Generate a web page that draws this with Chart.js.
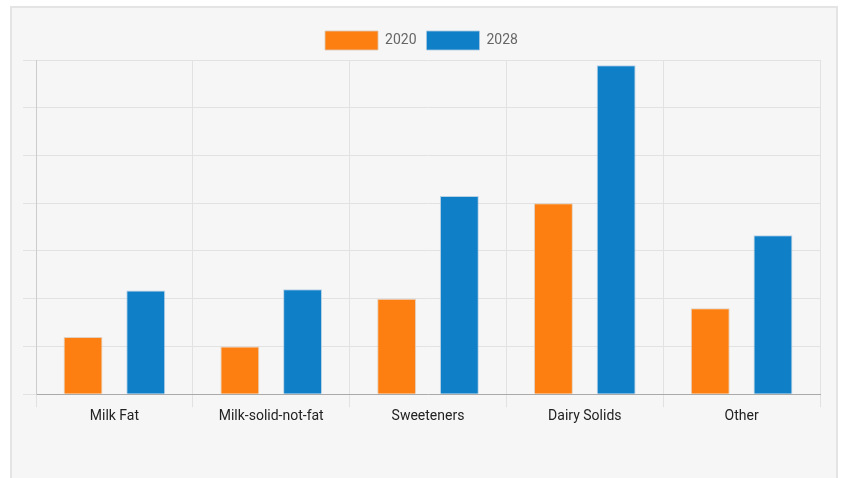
<!DOCTYPE html>
<html>
<head>
<meta charset="utf-8">
<script src="https://cdn.jsdelivr.net/npm/chart.js@4.4.0/dist/chart.umd.min.js"></script>
<style>
    html, body { margin: 0; padding: 0; background: #ffffff; }
    .frame {
        position: absolute; left: 10px; top: 6px; width: 824px; height: 480px;
        background: #f6f6f6; border: 2px solid #e4e4e4;
    }
    .wrap { position: absolute; left: 0; top: 0; width: 842px; height: 478px; }
</style>
</head>
<body>
<div class="frame"></div>
<div class="wrap"><canvas id="chart"></canvas></div>
<script>
const categories = ['Milk Fat', 'Milk-solid-not-fat', 'Sweeteners', 'Dairy Solids', 'Other'];
const values2020 = [1.2, 1.0, 2.0, 4.0, 1.8];
const values2028 = [2.17, 2.2, 4.15, 6.89, 3.33];

const ctx = document.getElementById('chart').getContext('2d');

new Chart(ctx, {
    type: 'bar',
    data: {
        labels: categories,
        datasets: [{
            label: '2020',
            data: values2020,
            backgroundColor: '#fd7f11',
            borderColor: 'rgba(220,200,180,0.8)',
            borderWidth: 1
        }, {
            label: '2028',
            data: values2028,
            backgroundColor: '#0f7fc8',
            borderColor: 'rgba(170,200,225,0.8)',
            borderWidth: 1
        }]
    },
    options: {
        responsive: true,
        maintainAspectRatio: false,
        animation: false,
        datasets: {
            bar: { categoryPercentage: 0.8, barPercentage: 0.62 }
        },
        layout: {
            padding: { left: 23, right: 22, top: 21, bottom: 52 }
        },
        plugins: {
            legend: {
                position: 'top',
                labels: {
                    boxWidth: 53,
                    boxHeight: 19,
                    color: '#666666',
                    font: { family: 'Roboto', size: 14 }
                }
            },
            tooltip: { enabled: false }
        },
        scales: {
            x: {
                grid: {
                    color: '#e2e2e2',
                    tickLength: 13
                },
                border: { color: '#aaaaaa' },
                ticks: {
                    color: '#222222',
                    padding: 1,
                    font: { family: 'Roboto', size: 14 }
                }
            },
            y: {
                min: 0,
                max: 7,
                grid: {
                    color: '#e2e2e2',
                    tickLength: 13
                },
                border: { color: '#cccccc' },
                ticks: {
                    stepSize: 1,
                    display: false
                }
            }
        }
    }
});
</script>
</body>
</html>
